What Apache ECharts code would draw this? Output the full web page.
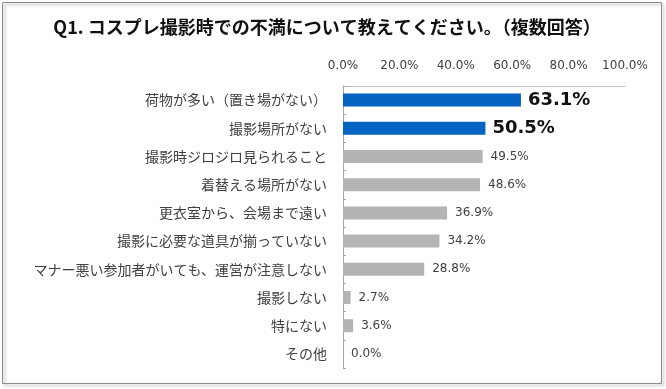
<!DOCTYPE html>
<html><head><meta charset="utf-8">
<script src="https://cdn.jsdelivr.net/npm/echarts@6/dist/echarts.min.js"></script>
<style>html,body{margin:0;padding:0;background:#fff}#c{width:666px;height:389px}</style>
</head><body><div id="c"></div>
<script>
const titleText = 'Q1. コスプレ撮影時での不満について教えてください。（複数回答）';
const categories = ['荷物が多い（置き場がない）','撮影場所がない','撮影時ジロジロ見られること','着替える場所がない','更衣室から、会場まで遠い','撮影に必要な道具が揃っていない','マナー悪い参加者がいても、運営が注意しない','撮影しない','特にない','その他'];
const values = [63.1, 50.5, 49.5, 48.6, 36.9, 34.2, 28.8, 2.7, 3.6, 0.0];
const highlighted = [true, true, false, false, false, false, false, false, false, false];
const tickValues = [0, 20, 40, 60, 80, 100];

const BLUE = '#0563c1', GRAY = '#b4b4b4';
const data = values.map((v, i) => ({
  value: v,
  itemStyle: { color: highlighted[i] ? BLUE : GRAY },
  label: highlighted[i]
    ? { fontSize: 18, fontWeight: 'bold', color: '#111', fontFamily: 'DejaVu Sans', distance: 7 }
    : { fontSize: 12, color: '#404040', fontFamily: 'DejaVu Sans', distance: 8 }
}));

const chart = echarts.init(document.getElementById('c'), null, { renderer: 'canvas' });
chart.setOption({
  animation: false,
  backgroundColor: '#fff',
  title: {
    text: titleText, left: 322, top: 13, textAlign: 'center',
    textStyle: { fontSize: 18, fontWeight: 'bold', color: '#111', fontFamily: 'Noto Sans CJK JP' }
  },
  graphic: [{
    type: 'rect', shape: { x: 2.5, y: 2.5, width: 659, height: 381 },
    style: { fill: 'none', stroke: '#8c8c8c', lineWidth: 1, shadowBlur: 3, shadowOffsetX: 2, shadowOffsetY: 2, shadowColor: 'rgba(0,0,0,0.35)' },
    z: -1, silent: true
  }],
  grid: { left: 343, right: 41, top: 86, bottom: 21, containLabel: false },
  xAxis: {
    type: 'value', position: 'top', min: 0, max: 100, interval: 20,
    axisLine: { show: true, lineStyle: { color: '#bfbfbf', width: 1 } },
    axisTick: { show: false },
    splitLine: { show: false },
    axisLabel: {
      margin: 14, fontSize: 12, color: '#404040', fontFamily: 'DejaVu Sans',
      formatter: v => tickValues.includes(v) ? v.toFixed(1) + '%' : ''
    }
  },
  yAxis: {
    type: 'category', inverse: true, data: categories,
    axisLine: { show: true, lineStyle: { color: '#a6a6a6', width: 1 } },
    axisTick: { show: true, inside: true, length: 3, lineStyle: { color: '#a6a6a6' } },
    axisLabel: { margin: 16, fontSize: 14, color: '#404040', fontFamily: 'Noto Sans CJK JP' }
  },
  series: [{
    type: 'bar', data: data, barWidth: 13,
    label: { show: true, position: 'right', formatter: p => p.value.toFixed(1) + '%' }
  }]
});
</script></body></html>
